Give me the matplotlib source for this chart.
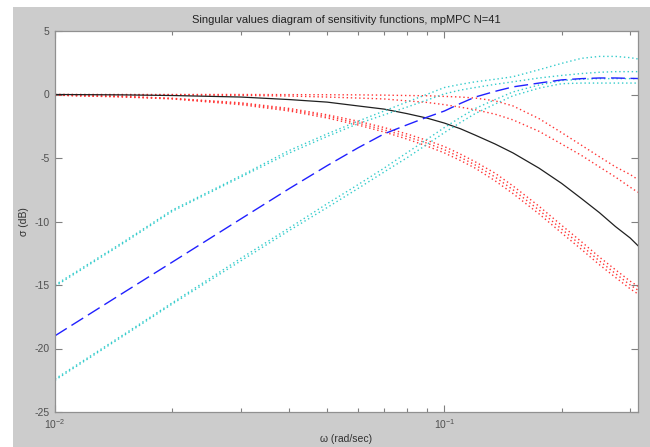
import numpy as np
import matplotlib
matplotlib.use("Agg")
import matplotlib.pyplot as plt
from matplotlib.patches import Rectangle
from matplotlib.ticker import LogLocator, FixedLocator, NullFormatter

plt.rcParams["axes.unicode_minus"] = False

# frequency grid (rad/sec)
w = [0.01, 0.015, 0.02, 0.03, 0.04, 0.05, 0.06, 0.07, 0.08, 0.09, 0.1,
     0.11, 0.12, 0.135, 0.15, 0.175, 0.2, 0.225, 0.25, 0.275, 0.3, 0.314]

# singular values of S (red, dotted)
red_1 = [0.0, 0.0, 0.0, 0.0, -0.01, -0.02, -0.03, -0.05, -0.08, -0.1, -0.15,
         -0.2, -0.28, -0.5, -0.9, -1.9, -3.0, -4.0, -4.9, -5.7, -6.3, -6.7]
red_2 = [0.0, -0.02, -0.03, -0.07, -0.12, -0.2, -0.28, -0.35, -0.5, -0.62, -0.8,
         -1.0, -1.2, -1.55, -2.0, -2.9, -3.9, -4.8, -5.7, -6.5, -7.3, -7.7]
red_3 = [-0.05, -0.15, -0.3, -0.65, -1.1, -1.6, -2.1, -2.6, -3.1, -3.6, -4.1,
         -4.7, -5.3, -6.2, -7.2, -8.8, -10.3, -11.6, -12.8, -13.8, -14.7, -15.1]
red_4 = [-0.05, -0.17, -0.32, -0.72, -1.2, -1.72, -2.25, -2.78, -3.3, -3.82, -4.35,
         -4.95, -5.55, -6.5, -7.5, -9.1, -10.6, -11.9, -13.1, -14.1, -15.0, -15.4]
red_5 = [-0.05, -0.2, -0.35, -0.8, -1.3, -1.85, -2.4, -2.95, -3.5, -4.05, -4.6,
         -5.2, -5.8, -6.8, -7.8, -9.4, -10.9, -12.2, -13.4, -14.4, -15.3, -15.7]

# nominal (black, solid)
black_1 = [0.0, -0.03, -0.08, -0.2, -0.4, -0.6, -0.9, -1.15, -1.5, -1.85, -2.25,
           -2.7, -3.2, -3.9, -4.6, -5.8, -7.0, -8.2, -9.3, -10.4, -11.3, -11.9]

# singular values of T (cyan, dotted)
cyan_1 = [-15.0, -11.6, -9.1, -6.4, -4.4, -3.1, -2.1, -1.3, -0.6, 0.0, 0.55,
          0.8, 1.0, 1.2, 1.4, 1.95, 2.45, 2.85, 3.0, 3.0, 2.9, 2.8]
cyan_2 = [-15.1, -11.7, -9.2, -6.5, -4.6, -3.3, -2.3, -1.6, -1.0, -0.45, 0.05,
          0.35, 0.55, 0.8, 1.0, 1.3, 1.5, 1.65, 1.75, 1.8, 1.8, 1.8]
cyan_3 = [-22.4, -18.9, -16.4, -12.9, -10.5, -8.6, -7.1, -5.8, -4.6, -3.55, -2.6,
          -1.8, -1.1, -0.4, 0.2, 0.75, 1.1, 1.2, 1.25, 1.25, 1.25, 1.25]
cyan_4 = [-22.5, -19.0, -16.5, -13.1, -10.7, -8.9, -7.4, -6.1, -5.0, -3.95, -3.0,
          -2.2, -1.5, -0.75, -0.1, 0.5, 0.85, 0.9, 0.9, 0.9, 0.9, 0.9]

# blue, dashed
blue_1 = [-19.0, -15.6, -13.2, -9.8, -7.4, -5.6, -4.2, -3.1, -2.4, -1.8, -1.3,
          -0.7, -0.2, 0.25, 0.6, 0.9, 1.15, 1.25, 1.3, 1.3, 1.27, 1.26]

red_lines = [red_1, red_2, red_3, red_4, red_5]
cyan_lines = [cyan_1, cyan_2, cyan_3, cyan_4]

fig = plt.figure(figsize=(6.5, 4.47), dpi=100, facecolor="white")
# grey MATLAB-like figure window, kept behind the axes
fig.patches.append(Rectangle((13 / 650, 0), 1 - 13 / 650, 1 - 7 / 447,
                             transform=fig.transFigure, facecolor="#cccccc",
                             edgecolor="none", zorder=-10))

ax = fig.add_axes([55 / 650, 1 - 412 / 447, 583 / 650, 381 / 447])
ax.set_facecolor("white")

dots = (0, (1, 2))
for y in red_lines:
    ax.plot(w, y, color="#ff3535", linestyle=dots, linewidth=1.0)
ax.plot(w, black_1, color="#202020", linewidth=0.9)
for y in cyan_lines:
    ax.plot(w, y, color="#35cccc", linestyle=dots, linewidth=1.0)
ax.plot(w, blue_1, color="#2020ff", linestyle=(0, (10, 4)), linewidth=1.0)

ax.set_xscale("log")
ax.set_xlim(0.01, np.pi / 10)
ax.set_ylim(-25, 5)
ax.yaxis.set_major_locator(FixedLocator([-25, -20, -15, -10, -5, 0, 5]))
ax.xaxis.set_major_locator(LogLocator(base=10))
ax.xaxis.set_minor_locator(LogLocator(base=10, subs=np.arange(2, 10)))
ax.xaxis.set_minor_formatter(NullFormatter())

font = "Liberation Sans"
ax.tick_params(which="both", direction="in", top=True, right=True,
               colors="#808080", labelcolor="#505050", labelsize=7.5)
ax.tick_params(which="major", length=5, width=0.8, pad=4)
ax.tick_params(which="minor", length=3, width=0.8)
for lab in ax.get_xticklabels() + ax.get_yticklabels():
    lab.set_family(font)
for s in ax.spines.values():
    s.set_color("#909090")
    s.set_linewidth(0.9)

ax.set_title("Singular values diagram of sensitivity functions, mpMPC N=41",
             fontsize=8, family=font, color="#202020", pad=6)
ax.set_xlabel("\u03c9 (rad/sec)", fontsize=7.5, family=font, color="#303030",
              labelpad=2)
ax.set_ylabel("\u03c3 (dB)", fontsize=7.5, family=font, color="#303030",
              labelpad=4)

fig.savefig("out.png", dpi=100, facecolor=fig.get_facecolor())
